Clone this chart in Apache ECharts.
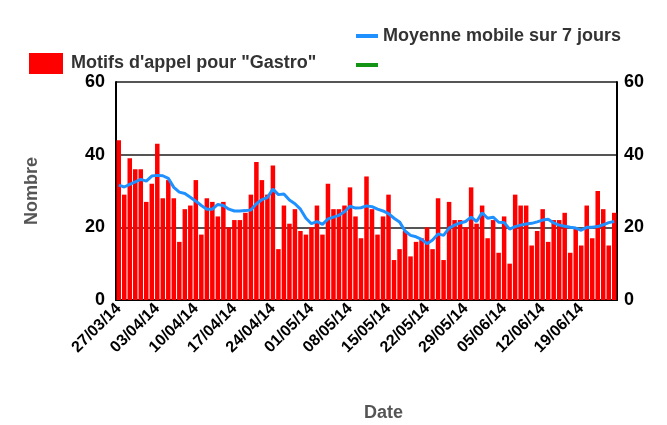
<!DOCTYPE html>
<html>
<head>
    <meta charset="utf-8">
    <title>Gastro</title>
    <script src="https://cdn.jsdelivr.net/npm/echarts@6/dist/echarts.min.js"></script>
    <style>
        html, body { margin: 0; padding: 0; background: #fff; }
        #chart { width: 667px; height: 425px; }
    </style>
</head>
<body>
<div id="chart"></div>
<script>
    // premier jour et nombre de jours affiches
    var startDate = [2014, 2, 27];
    var nbDays = 91;

    // appels quotidiens
    var appels = [44, 29, 39, 36, 36, 27, 32, 43, 28, 33, 28, 16, 25, 26, 33, 18, 28, 27, 23, 27,
        20, 22, 22, 24, 29, 38, 33, 29, 37, 14, 26, 21, 25, 19, 18, 20, 26, 18, 32, 25,
        25, 26, 31, 23, 17, 34, 25, 18, 23, 29, 11, 14, 19, 12, 16, 17, 20, 14, 28, 11,
        27, 22, 22, 20, 31, 21, 26, 17, 22, 13, 23, 10, 29, 26, 26, 15, 19, 25, 16, 22,
        22, 24, 13, 20, 15, 26, 17, 30, 25, 15, 24];

    var moyenne = [31.6, 31.1, 31.8, 32.5, 33.2, 32.7, 34.1, 34.3, 34.2, 33.5,
        31.0, 29.7, 29.3, 28.3, 27.2, 26.0, 25.0, 25.0, 26.3, 26.0,
        25.0, 24.5, 24.5, 24.6, 24.8, 26.5, 27.6, 28.2, 30.5, 29.0,
        29.2, 27.5, 26.5, 25.0, 22.5, 21.0, 21.6, 20.8, 22.3, 22.8,
        23.3, 24.3, 25.8, 25.3, 25.4, 25.9, 25.7, 25.0, 24.5, 23.8,
        22.5, 21.5, 19.0, 17.8, 17.4, 16.7, 15.5, 16.5, 18.2, 17.8,
        19.8, 20.6, 21.2, 21.6, 22.8, 21.6, 24.0, 22.5, 22.8, 21.4,
        21.3, 19.5, 20.2, 20.6, 20.9, 21.1, 21.5, 22.0, 22.2, 21.2,
        20.6, 20.3, 20.0, 19.8, 19.2, 20.0, 20.0, 20.2, 20.7, 21.3, 21.6];

    var yTicks = [0, 20, 40, 60];

    var nomBarres = 'Motifs d\'appel pour "Gastro"';
    var nomMoyenne = 'Moyenne mobile sur 7 jours';
    var nomVide = '\u00a0';

    function pad(n) { return (n < 10 ? '0' : '') + n; }
    var dates = [];
    for (var i = 0; i < nbDays; i++) {
        var d = new Date(startDate[0], startDate[1], startDate[2] + i);
        dates.push(pad(d.getDate()) + '/' + pad(d.getMonth() + 1) + '/' + String(d.getFullYear()).slice(2));
    }

    var police = "'Liberation Sans', Arial, sans-serif";

    var chart = echarts.init(document.getElementById('chart'), null, {renderer: 'canvas'});

    var yAxisBase = {
        type: 'value',
        min: yTicks[0],
        max: yTicks[yTicks.length - 1],
        interval: yTicks[1] - yTicks[0],
        axisTick: {show: false},
        axisLine: {show: true, lineStyle: {color: '#000', width: 2}}
    };

    var option = {
        animation: false,
        backgroundColor: '#fff',
        textStyle: {fontFamily: police},
        legend: [{
            data: [nomBarres],
            left: 24,
            top: 48,
            icon: 'rect',
            itemWidth: 34,
            itemHeight: 21,
            itemGap: 6,
            textStyle: {fontSize: 18, fontWeight: 'bold', color: '#333', fontFamily: police, padding: [0, 0, 0, 3]}
        }, {
            data: [nomMoyenne, nomVide],
            orient: 'vertical',
            left: 351,
            top: 22,
            icon: 'rect',
            itemWidth: 22,
            itemHeight: 4,
            itemGap: 11,
            textStyle: {fontSize: 18, lineHeight: 18, fontWeight: 'bold', color: '#333', fontFamily: police}
        }],
        grid: {
            left: 116,
            right: 50,
            top: 82,
            bottom: 125,
            outerBoundsMode: 'none'
        },
        xAxis: {
            type: 'category',
            data: dates,
            boundaryGap: true,
            name: 'Date',
            nameLocation: 'middle',
            nameGap: 104,
            nameTextStyle: {fontSize: 18, fontWeight: 'bold', color: '#555', fontFamily: police, padding: [0, 0, 0, 34]},
            axisLine: {lineStyle: {color: '#000', width: 2}},
            axisTick: {alignWithLabel: true, interval: 6, length: 5, lineStyle: {color: '#000', width: 2}},
            axisLabel: {
                interval: 6,
                rotate: 45,
                margin: 6,
                fontSize: 16,
                fontWeight: 'bold',
                color: '#000',
                fontFamily: police
            }
        },
        yAxis: [
            Object.assign({}, yAxisBase, {
                position: 'left',
                name: 'Nombre',
                nameLocation: 'middle',
                nameGap: 75,
                nameTextStyle: {fontSize: 18, fontWeight: 'bold', color: '#555', fontFamily: police},
                splitLine: {show: true, lineStyle: {color: '#555', width: 2}},
                axisLabel: {margin: 11, fontSize: 18, fontWeight: 'bold', color: '#000', fontFamily: police}
            }),
            Object.assign({}, yAxisBase, {
                position: 'right',
                splitLine: {show: false},
                axisLabel: {margin: 7, fontSize: 18, fontWeight: 'bold', color: '#000', fontFamily: police}
            })
        ],
        series: [{
            name: nomBarres,
            type: 'bar',
            data: appels,
            barCategoryGap: '18%',
            itemStyle: {color: '#ff0000'},
            z: 2
        }, {
            name: nomMoyenne,
            type: 'line',
            data: moyenne,
            showSymbol: false,
            symbol: 'none',
            lineStyle: {color: '#1e90ff', width: 3},
            itemStyle: {color: '#1e90ff'},
            z: 3
        }, {
            name: nomVide,
            type: 'line',
            data: [],
            symbol: 'none',
            lineStyle: {color: '#149414', width: 3},
            itemStyle: {color: '#149414'}
        }]
    };

    chart.setOption(option);

    window.onresize = function () {
        chart.resize();
    };
</script>
</body>
</html>
